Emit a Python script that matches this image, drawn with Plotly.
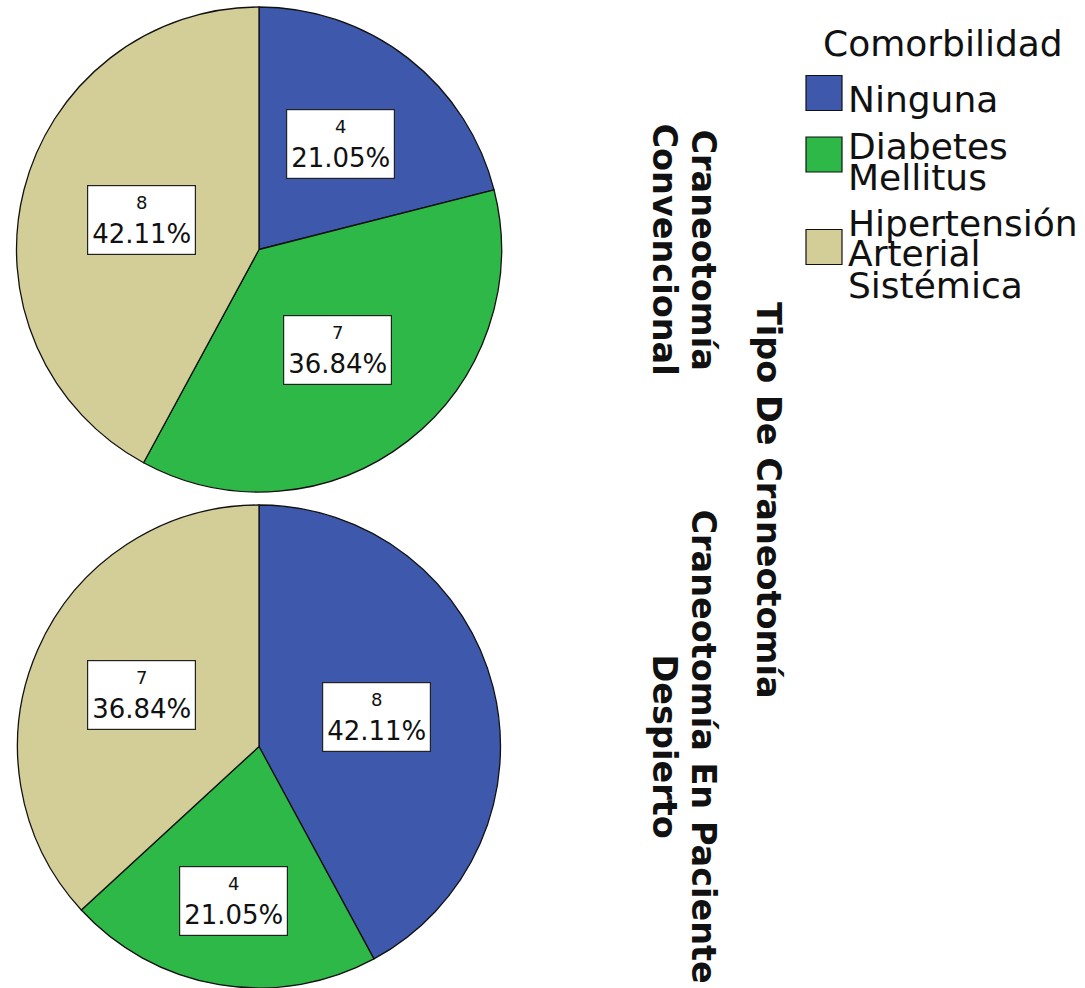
import math
import plotly.graph_objects as go

W, H = 1085, 988

# ---------------- data ----------------
categories = ["Ninguna", "Diabetes Mellitus", "Hipertensión Arterial Sistémica"]
legend_lines = [["Ninguna"], ["Diabetes", "Mellitus"], ["Hipertensión", "Arterial", "Sistémica"]]
legend_title = "Comorbilidad"
panel_title = "Tipo De Craneotomía"
groups = ["Craneotomía Convencional", "Craneotomía En Paciente Despierto"]
group_lines = [["Craneotomía", "Convencional"], ["Craneotomía En Paciente", "Despierto"]]
counts_convencional = [4, 7, 8]
counts_despierto = [8, 4, 7]

# ---------------- style / layout ----------------
colors = ["#3E58AC", "#2EB848", "#D3CE97"]
FONT = "DejaVu Sans"
pie_boxes = [(16, 7, 502, 492), (16, 505, 502, 988)]   # pixel boxes (x0, y0, x1, y1)
label_radius = [[0.55, 0.525, 0.50], [0.50, 0.65, 0.53]]
row_label_x = [703, 664]
title_x = 769

series = [counts_convencional, counts_despierto]

fig = go.Figure()
annotations = []
shapes = []

for gi, (vals, box) in enumerate(zip(series, pie_boxes)):
    x0, y0, x1, y1 = box
    fig.add_trace(go.Pie(
        values=vals, labels=categories, sort=False, direction="clockwise", rotation=0,
        marker=dict(colors=colors, line=dict(color="#111111", width=1.3)),
        textinfo="none", hoverinfo="none", showlegend=False,
        domain=dict(x=[x0 / W, x1 / W], y=[1 - y1 / H, 1 - y0 / H]),
    ))
    cx, cy = (x0 + x1) / 2, (y0 + y1) / 2
    r = min(x1 - x0, y1 - y0) / 2
    total = sum(vals)
    cum = 0
    for i, v in enumerate(vals):
        mid = (cum + v / 2) / total * 2 * math.pi
        cum += v
        f = label_radius[gi][i]
        px = cx + f * r * math.sin(mid)
        py = cy - f * r * math.cos(mid)
        annotations.append(dict(
            x=px / W, y=1 - py / H, xref="paper", yref="paper", showarrow=False,
            text=f"<span style='font-size:18px'>{v}</span><br>{v / total * 100:.2f}%",
            font=dict(family=FONT, size=26, color="#111111"),
            bgcolor="white", bordercolor="#222222", borderwidth=1.2, borderpad=3,
            width=101, height=62, align="center", valign="middle",
            xanchor="center", yanchor="middle",
        ))
    # row label (rotated)
    for li, line in enumerate(group_lines[gi]):
        annotations.append(dict(
            x=row_label_x[li] / W, y=1 - cy / H, xref="paper", yref="paper", showarrow=False,
            text=line, textangle=90,
            font=dict(family=FONT, size=33.5, color="#111111", weight="bold"),
            xanchor="center", yanchor="middle",
        ))

# panel title
annotations.append(dict(
    x=title_x / W, y=1 - 500 / H, xref="paper", yref="paper", showarrow=False,
    text=panel_title, textangle=90,
    font=dict(family=FONT, size=33.5, color="#111111", weight="bold"),
    xanchor="center", yanchor="middle",
))

# custom legend
LEG_SIZE = 36
annotations.append(dict(
    x=821 / W, y=1 - 43 / H, xref="paper", yref="paper", showarrow=False,
    text=legend_title, font=dict(family=FONT, size=LEG_SIZE, color="#111111"),
    xanchor="left", yanchor="middle",
))
pitch, gap = 31, 15
top = 84.5
for ci, lines in enumerate(legend_lines):
    for li, line in enumerate(lines):
        ly = top + pitch / 2 + li * pitch
        annotations.append(dict(
            x=846 / W, y=1 - ly / H, xref="paper", yref="paper", showarrow=False,
            text=line, font=dict(family=FONT, size=LEG_SIZE, color="#111111"),
            xanchor="left", yanchor="middle",
        ))
    block_h = len(lines) * pitch
    sc = top + block_h / 2 - 7
    shapes.append(dict(
        type="rect", xref="paper", yref="paper",
        x0=806 / W, x1=842 / W, y0=1 - (sc + 17.5) / H, y1=1 - (sc - 17.5) / H,
        fillcolor=colors[ci], line=dict(color="#111111", width=1.2),
    ))
    top += block_h + gap

fig.update_layout(
    width=W, height=H, autosize=False,
    margin=dict(l=0, r=0, t=0, b=0, pad=0),
    paper_bgcolor="white", plot_bgcolor="white",
    annotations=annotations, shapes=shapes, showlegend=False,
)

fig.write_html(
    "out.html",
    config={"displayModeBar": False},
    post_script="document.body.style.margin='0';document.body.style.overflow='hidden';",
)
